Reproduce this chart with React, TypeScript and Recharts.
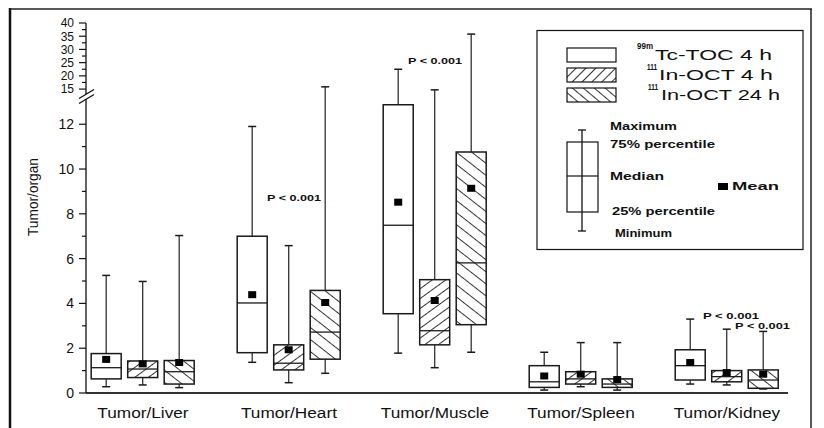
import React from 'react';
import { ComposedChart, Bar, XAxis, YAxis } from 'recharts';

const organs = ['Tumor/Liver', 'Tumor/Heart', 'Tumor/Muscle', 'Tumor/Spleen', 'Tumor/Kidney'];

// 99mTc-TOC 4 h
const tocMin = [0.28, 1.37, 1.78, 0.13, 0.4];
const tocQ1 = [0.63, 1.8, 3.54, 0.25, 0.58];
const tocMed = [1.13, 4.02, 7.49, 0.5, 1.22];
const tocQ3 = [1.76, 7.0, 12.87, 1.22, 1.93];
const tocMax = [5.25, 11.9, 22.5, 1.82, 3.3];
const tocMean = [1.5, 4.39, 8.52, 0.76, 1.36];

// 111In-OCT 4 h
const oct4Min = [0.36, 0.46, 1.13, 0.28, 0.36];
const oct4Q1 = [0.69, 1.03, 2.15, 0.4, 0.5];
const oct4Med = [1.07, 1.33, 2.78, 0.63, 0.73];
const oct4Q3 = [1.43, 2.15, 5.06, 0.95, 1.0];
const oct4Max = [4.98, 6.58, 14.7, 2.25, 2.85];
const oct4Mean = [1.3, 1.93, 4.13, 0.84, 0.91];

// 111In-OCT 24 h
const oct24Min = [0.24, 0.88, 1.82, 0.13, 0.18];
const oct24Q1 = [0.4, 1.51, 3.05, 0.25, 0.21];
const oct24Med = [0.95, 2.72, 5.81, 0.4, 0.58];
const oct24Q3 = [1.45, 4.58, 10.76, 0.63, 1.03];
const oct24Max = [7.03, 15.85, 35.8, 2.25, 2.75];
const oct24Mean = [1.36, 4.04, 9.14, 0.6, 0.84];

const lowerTicks = [0, 1, 2, 3, 4, 5, 6, 7, 8, 9, 10, 11, 12];
const upperTicks = [15, 17.5, 20, 22.5, 25, 27.5, 30, 32.5, 35, 37.5, 40];

const series = [
  { min: tocMin, q1: tocQ1, med: tocMed, q3: tocQ3, max: tocMax, mean: tocMean },
  { min: oct4Min, q1: oct4Q1, med: oct4Med, q3: oct4Q3, max: oct4Max, mean: oct4Mean },
  { min: oct24Min, q1: oct24Q1, med: oct24Med, q3: oct24Q3, max: oct24Max, mean: oct24Mean },
];
const slot = [-0.25, 0, 0.25];

// broken axis: 0..13.3 linear, above that a compressed 15..40 section
const BREAK = 13.3;
const toAxis = (v: number) => (v <= BREAK ? v : 13.57 + (v - 15) * 0.118);
const yTop = toAxis(40);

const rows = series.flatMap((s, j) =>
  organs.map((_, i) => ({
    pos: i + slot[j],
    tracer: j,
    min: s.min[i],
    q1: s.q1[i],
    med: s.med[i],
    q3: s.q3[i],
    max: s.max[i],
    mean: s.mean[i],
  }))
);

const yTickRaw = [...lowerTicks, ...upperTicks];
const yTicks = yTickRaw.map(toAxis);

const FONT = '"Liberation Sans", Arial, sans-serif';
const fills = ['#fff', 'url(#hatchUp)', 'url(#hatchDown)'];

const BoxShape = (props: any) => {
  const { x, width, payload } = props;
  const y = Math.min(props.y, props.y + props.height);
  const h = Math.abs(props.height);
  const top = toAxis(payload.max);
  const bot = toAxis(payload.min);
  const py = (v: number) => y + (h * (top - toAxis(v))) / (top - bot);
  const cx = x + width / 2;
  const yQ1 = py(payload.q1);
  const yQ3 = py(payload.q3);
  const yMed = py(payload.med);
  const yMean = py(payload.mean);
  const ink = '#1a1a1a';
  return (
    <g>
      <line x1={cx} x2={cx} y1={y} y2={yQ3} stroke="#333" strokeWidth={1.3} />
      <line x1={cx} x2={cx} y1={yQ1} y2={y + h} stroke="#333" strokeWidth={1.3} />
      <line x1={cx - 4} x2={cx + 4} y1={y} y2={y} stroke={ink} strokeWidth={1.5} />
      <line x1={cx - 4} x2={cx + 4} y1={y + h} y2={y + h} stroke={ink} strokeWidth={1.5} />
      <rect x={x} y={yQ3} width={width} height={yQ1 - yQ3} fill="#fff" />
      <rect x={x} y={yQ3} width={width} height={yQ1 - yQ3} fill={fills[payload.tracer]} stroke={ink} strokeWidth={1.5} />
      <line x1={x} x2={x + width} y1={yMed} y2={yMed} stroke={ink} strokeWidth={1.3} />
      <rect x={cx - 4} y={yMean - 3.5} width={8} height={7} fill="#000" />
    </g>
  );
};

const YTick = (props: any) => {
  const { x, y, index } = props;
  const raw = yTickRaw[index];
  const upper = raw > BREAK;
  const major = upper ? raw % 5 === 0 : raw % 2 === 0;
  const len = major ? 7 : 4;
  return (
    <g>
      <line x1={x - len} x2={x} y1={y} y2={y} stroke="#111" strokeWidth={1.2} />
      {major && (
        <text
          x={x - 12}
          y={y}
          dy="0.36em"
          textAnchor="end"
          fontSize={upper ? 12 : 14}
          fontFamily={FONT}
          fill="#111"
        >
          {raw}
        </text>
      )}
    </g>
  );
};

const XTick = (props: any) => {
  const { x, y, payload } = props;
  return (
    <text
      transform={`translate(${x},${y + 25}) scale(1.23,1)`}
      textAnchor="middle"
      fontSize={14}
      fontFamily={FONT}
      fill="#111"
    >
      {organs[payload.value]}
    </text>
  );
};

const T = ({ x, y, len, size, bold, children, anchor }: any) => (
  <text
    x={x}
    y={y}
    fontSize={size}
    fontWeight={bold ? 'bold' : 'normal'}
    fontFamily={FONT}
    textLength={len}
    lengthAdjust="spacingAndGlyphs"
    textAnchor={anchor || 'start'}
    fill="#111"
  >
    {children}
  </text>
);

const Overlay = () => (
  <svg width={824} height={428} style={{ position: 'absolute', left: 0, top: 0, pointerEvents: 'none' }}>
    <defs>
      <pattern id="lgUp" patternUnits="userSpaceOnUse" width="10" height="7" patternTransform="rotate(-45)">
        <line x1="0" y1="0.5" x2="10" y2="0.5" stroke="#333" strokeWidth="1" />
      </pattern>
      <pattern id="lgDown" patternUnits="userSpaceOnUse" width="10" height="7" patternTransform="rotate(40)">
        <line x1="0" y1="0.5" x2="10" y2="0.5" stroke="#333" strokeWidth="1" />
      </pattern>
    </defs>
    {/* frame */}
    <line x1={10} x2={10} y1={8} y2={428} stroke="#111" strokeWidth={2.5} />
    <line x1={10} x2={812} y1={9} y2={9} stroke="#222" strokeWidth={1.5} />
    <line x1={811} x2={811} y1={9} y2={428} stroke="#222" strokeWidth={1.5} />
    {/* axis break */}
    <polygon points="80,98 93,90 93,95 80,103" fill="#fff" />
    <line x1={79} y1={98.5} x2={94} y2={89.5} stroke="#111" strokeWidth={1.3} />
    <line x1={79} y1={103.5} x2={94} y2={94.5} stroke="#111" strokeWidth={1.3} />
    {/* y label */}
    <text
      transform="translate(38,197) rotate(-90)"
      textAnchor="middle"
      fontSize={14}
      fontFamily={FONT}
      fill="#111"
      textLength={78}
      lengthAdjust="spacingAndGlyphs"
    >
      Tumor/organ
    </text>
    {/* p values */}
    <T x={267} y={201} len={54} size={9} bold>P &lt; 0.001</T>
    <T x={408} y={64} len={54} size={9} bold>P &lt; 0.001</T>
    <T x={703} y={318.5} len={56} size={9} bold>P &lt; 0.001</T>
    <T x={735} y={328.5} len={55} size={9} bold>P &lt; 0.001</T>
    {/* legend */}
    <rect x={537} y={30.5} width={266} height={219} fill="#fff" stroke="#111" strokeWidth={1.2} />
    <rect x={567} y={48} width={49} height={14} fill="#fff" stroke="#111" strokeWidth={1.2} />
    <rect x={567} y={68} width={49} height={14} fill="url(#lgUp)" stroke="#111" strokeWidth={1.2} />
    <rect x={567} y={88} width={49} height={14} fill="url(#lgDown)" stroke="#111" strokeWidth={1.2} />
    <T x={637} y={49} len={16} size={9} bold>99m</T>
    <T x={655} y={60} len={117} size={14}>Tc-TOC 4 h</T>
    <T x={647} y={70} len={10} size={9} bold>111</T>
    <T x={659} y={80} len={114} size={14}>In-OCT 4 h</T>
    <T x={648} y={90} len={10} size={9} bold>111</T>
    <T x={661} y={100} len={119} size={14}>In-OCT 24 h</T>
    <line x1={582} x2={582} y1={130} y2={231} stroke="#111" strokeWidth={1.3} />
    <line x1={578} x2={586} y1={130} y2={130} stroke="#111" strokeWidth={1.3} />
    <line x1={578} x2={586} y1={231} y2={231} stroke="#111" strokeWidth={1.3} />
    <rect x={567} y={142} width={31} height={70} fill="none" stroke="#111" strokeWidth={1.2} />
    <line x1={567} x2={598} y1={176} y2={176} stroke="#111" strokeWidth={1.2} />
    <T x={610} y={130} len={67} size={10.5} bold>Maximum</T>
    <T x={610} y={148} len={105} size={10.5} bold>75% percentile</T>
    <T x={610} y={180} len={54} size={10.5} bold>Median</T>
    <T x={612} y={215} len={103} size={10.5} bold>25% percentile</T>
    <T x={615} y={237} len={57} size={10.5} bold>Minimum</T>
    <rect x={718} y={183} width={10} height={7} fill="#000" />
    <T x={732} y={190} len={47} size={10.5} bold>Mean</T>
  </svg>
);

export default function App() {
  return (
    <div style={{ position: 'absolute', left: 0, top: 0, width: 824, height: 428, background: '#fff' }}>
      <ComposedChart width={824} height={428} data={rows} margin={{ top: 23, right: 36, bottom: 0, left: 0 }}>
        <defs>
          <pattern id="hatchUp" patternUnits="userSpaceOnUse" width="10" height="8" patternTransform="rotate(-36)">
            <line x1="0" y1="0.5" x2="10" y2="0.5" stroke="#333" strokeWidth="1" />
          </pattern>
          <pattern id="hatchDown" patternUnits="userSpaceOnUse" width="10" height="9.5" patternTransform="rotate(38)">
            <line x1="0" y1="0.5" x2="10" y2="0.5" stroke="#333" strokeWidth="1" />
          </pattern>
        </defs>
        <XAxis
          type="number"
          dataKey="pos"
          domain={[-0.39, 4.418]}
          allowDataOverflow
          ticks={[0, 1, 2, 3, 4]}
          tick={<XTick />}
          tickLine={false}
          tickSize={0}
          tickMargin={0}
          height={35}
          axisLine={{ stroke: '#333', strokeWidth: 2 }}
        />
        <YAxis
          type="number"
          domain={[0, yTop]}
          allowDataOverflow
          ticks={yTicks}
          interval={0}
          tick={<YTick />}
          tickLine={false}
          tickSize={0}
          tickMargin={0}
          width={86}
          axisLine={{ stroke: '#111', strokeWidth: 1.3 }}
        />
        <Bar
          dataKey={(d: any) => [toAxis(d.min), toAxis(d.max)]}
          barSize={30}
          shape={(p: any) => <BoxShape {...p} />}
          isAnimationActive={false}
        />
      </ComposedChart>
      <Overlay />
    </div>
  );
}
